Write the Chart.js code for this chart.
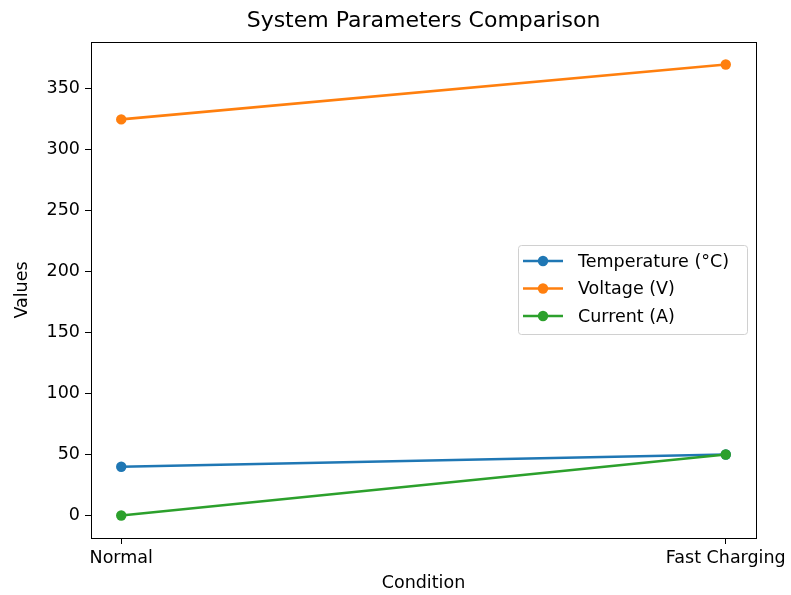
<!DOCTYPE html>
<html>
<head>
<meta charset="utf-8">
<script src="https://cdn.jsdelivr.net/npm/chart.js@4.4.1/dist/chart.umd.min.js"></script>
<style>
  html, body { margin: 0; padding: 0; background: #fff; }
  #chart { display: block; }
</style>
</head>
<body>
<canvas id="chart" width="791" height="595"></canvas>
<script>
// data
const conditions = ['Normal', 'Fast Charging'];
const temperature = [40, 50];
const voltage = [325, 370];
const current = [0, 50];
const yTicks = [0, 50, 100, 150, 200, 250, 300, 350];

const FONT = 'DejaVu Sans';
const toPoints = arr => arr.map((v, i) => ({ x: i, y: v }));

// frame on top and right, like matplotlib spines
const framePlugin = {
  id: 'frame',
  afterDraw(chart) {
    const { ctx, chartArea: a } = chart;
    ctx.save();
    ctx.strokeStyle = '#000';
    ctx.lineWidth = 1;
    ctx.strokeRect(Math.round(a.left) + 0.5, Math.round(a.top) + 0.5, Math.round(a.right - a.left), Math.round(a.bottom - a.top));
    ctx.restore();
  }
};

// legend drawn inside the plot area (center right)
const innerLegend = {
  id: 'innerLegend',
  afterDraw(chart) {
    const { ctx } = chart;
    const x0 = 518, y0 = 245, w = 229, h = 89;
    ctx.save();
    ctx.fillStyle = 'rgba(255,255,255,0.8)';
    ctx.strokeStyle = '#d0d0d0';
    ctx.lineWidth = 1;
    ctx.beginPath();
    ctx.roundRect(x0 + 0.5, y0 + 0.5, w, h, 3);
    ctx.fill();
    ctx.stroke();
    ctx.font = '17.5px "' + FONT + '"';
    ctx.textBaseline = 'middle';
    chart.data.datasets.forEach((ds, i) => {
      const y = 261 + i * 27.5;
      ctx.strokeStyle = ds.borderColor;
      ctx.lineWidth = 2.6;
      ctx.beginPath();
      ctx.moveTo(523, y);
      ctx.lineTo(563, y);
      ctx.stroke();
      ctx.fillStyle = ds.borderColor;
      ctx.beginPath();
      ctx.arc(543, y, 5.2, 0, Math.PI * 2);
      ctx.fill();
      ctx.fillStyle = '#000';
      ctx.fillText(ds.label, 578, y + 1);
    });
    ctx.restore();
  }
};

function series(label, values, color, order) {
  return {
    label: label,
    data: toPoints(values),
    borderColor: color,
    backgroundColor: color,
    borderWidth: 2.6,
    pointRadius: 5.2,
    pointHoverRadius: 5.2,
    pointBorderWidth: 0,
    tension: 0,
    order: order
  };
}

new Chart(document.getElementById('chart').getContext('2d'), {
  type: 'line',
  data: {
    datasets: [
      series('Temperature (°C)', temperature, '#1f77b4', 3),
      series('Voltage (V)', voltage, '#ff7f0e', 2),
      series('Current (A)', current, '#2ca02c', 1)
    ]
  },
  plugins: [framePlugin, innerLegend],
  options: {
    responsive: false,
    animation: false,
    events: [],
    layout: { padding: { left: 0, right: 35, top: 0, bottom: 0 } },
    plugins: {
      legend: { display: false },
      tooltip: { enabled: false },
      title: {
        display: true,
        fullSize: false,
        text: 'System Parameters Comparison',
        color: '#000',
        font: { family: FONT, size: 22, weight: 'normal', lineHeight: 1.2 },
        padding: { top: 8.5, bottom: 7.1 }
      }
    },
    scales: {
      x: {
        type: 'linear',
        min: -0.05,
        max: 1.05,
        afterBuildTicks: s => { s.ticks = conditions.map((c, i) => ({ value: i })); },
        afterFit: s => { s.height = 57; s.paddingLeft = 0; s.paddingRight = 0; },
        grid: { display: true, drawOnChartArea: false, drawTicks: true, tickLength: 6, color: '#000' },
        border: { display: true, color: '#000', width: 1 },
        ticks: {
          color: '#000',
          padding: 4,
          maxRotation: 0,
          font: { family: FONT, size: 17.5 },
          callback: v => conditions[v]
        },
        title: {
          display: true,
          text: 'Condition',
          color: '#000',
          font: { family: FONT, size: 17.5 },
          padding: { top: 0, bottom: 1 }
        }
      },
      y: {
        type: 'linear',
        min: -18.5,
        max: 388.5,
        afterBuildTicks: s => { s.ticks = yTicks.map(v => ({ value: v })); },
        afterFit: s => { s.width = 91; s.paddingTop = 0; s.paddingBottom = 0; },
        grid: { display: true, drawOnChartArea: false, drawTicks: true, tickLength: 6, color: '#000' },
        border: { display: true, color: '#000', width: 1 },
        ticks: {
          color: '#000',
          padding: 5,
          font: { family: FONT, size: 17.5 }
        },
        title: {
          display: true,
          text: 'Values',
          color: '#000',
          font: { family: FONT, size: 17.5 },
          padding: { top: 12, bottom: 0 }
        }
      }
    }
  }
});
</script>
</body>
</html>
